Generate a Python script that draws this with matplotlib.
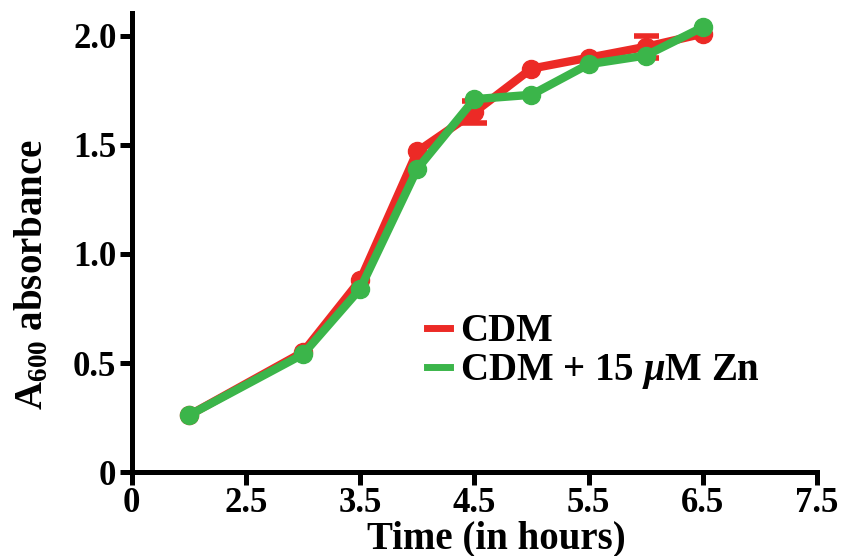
import matplotlib
matplotlib.use('Agg')
import matplotlib.pyplot as plt
from matplotlib.lines import Line2D
import numpy as np

plt.rcParams['font.family'] = 'Liberation Serif'
plt.rcParams['font.weight'] = 'bold'
plt.rcParams['axes.labelweight'] = 'bold'
plt.rcParams['mathtext.fontset'] = 'custom'
plt.rcParams['mathtext.rm'] = 'Liberation Serif:bold'
plt.rcParams['mathtext.it'] = 'Liberation Serif:italic:bold'
plt.rcParams['mathtext.bf'] = 'Liberation Serif:bold'

# time in hours
hours = [2.0, 3.0, 3.5, 4.0, 4.5, 5.0, 5.5, 6.0, 6.5]
cdm = [0.26, 0.55, 0.88, 1.47, 1.65, 1.85, 1.90, 1.95, 2.01]
cdm_err = [0, 0, 0, 0, 0.05, 0, 0, 0.05, 0]
cdm_zn = [0.26, 0.54, 0.84, 1.39, 1.71, 1.73, 1.87, 1.91, 2.04]

xticks = [1.5, 2.5, 3.5, 4.5, 5.5, 6.5, 7.5]
xticklabels = ['0', '2.5', '3.5', '4.5', '5.5', '6.5', '7.5']
yticks = [0, 0.5, 1.0, 1.5, 2.0]
yticklabels = ['0', '0.5', '1.0', '1.5', '2.0']

red = '#ec2a26'
green = '#3bb54a'

fig = plt.figure(figsize=(8.41, 5.56), dpi=100)
ax = fig.add_axes([0.1566, 0.151, 0.8149, 0.8256])

ax.plot(hours, cdm, color=red, lw=6, marker='o', ms=13, zorder=2)
# only the points with a visible error bar
eb = [i for i, e in enumerate(cdm_err) if e > 0]
ax.errorbar([hours[i] for i in eb], [cdm[i] for i in eb],
            yerr=[cdm_err[i] for i in eb], fmt='none', ecolor=red,
            capsize=9, capthick=4, elinewidth=3, zorder=2)
ax.plot(hours, cdm_zn, color=green, lw=6, marker='o', ms=13, zorder=3)

ax.set_xlim(1.5, 7.5)
ax.set_ylim(0, 2.105)
ax.set_xticks(xticks)
ax.set_xticklabels(xticklabels)
ax.set_yticks(yticks)
ax.set_yticklabels(yticklabels)

for s in ['top', 'right']:
    ax.spines[s].set_visible(False)
for s in ['left', 'bottom']:
    ax.spines[s].set_linewidth(3.6)
ax.tick_params(direction='out', length=9, width=3.6, labelsize=25, pad=2)

ax.set_xlabel('Time (in hours)', fontsize=28, labelpad=0)
ax.xaxis.label.set_x(0.532)
ax.set_ylabel(r'A$_{\mathrm{600}}$ absorbance', fontsize=28, labelpad=16)
ax.yaxis.label.set_y(0.43)

# legend with plain line handles
handles = [Line2D([], [], color=red, lw=5), Line2D([], [], color=green, lw=5)]
ax.legend(handles, ['CDM', r'CDM + 15 $\mu$M Zn'], loc='upper left',
          bbox_to_anchor=(0.408, 0.38), frameon=False, fontsize=28,
          handlelength=0.6, handletextpad=0.25, labelspacing=0.05,
          borderaxespad=0)

fig.savefig('out.png', dpi=100)
